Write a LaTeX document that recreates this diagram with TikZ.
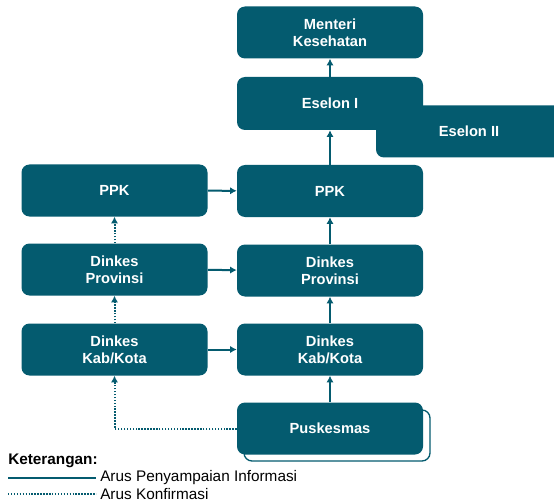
\documentclass[tikz,border=0pt]{standalone}
\usepackage{fontspec}
\setmainfont{Liberation Sans}
\usetikzlibrary{arrows.meta}
\definecolor{tealbox}{RGB}{4,91,111}
\tikzset{
  box/.style={rectangle, rounded corners=6pt, fill=tealbox, text=white,
    font=\bfseries\fontsize{11}{12.8}\selectfont, align=center,
    minimum width=139.5pt, minimum height=39pt, inner sep=0pt},
  info/.style={draw=tealbox, line width=1.5pt, -{Latex[length=5pt,width=5.5pt]}},
  konf/.style={draw=tealbox, line width=1.5pt, dash pattern=on 1.1pt off 1.1pt,
    -{Latex[length=5pt,width=5.5pt]}},
  legtext/.style={anchor=west, inner sep=0pt, font=\fontsize{11.5}{13}\selectfont}
}
\begin{document}
\begin{tikzpicture}[x=0.75pt, y=-0.75pt]
\useasboundingbox (0,0) rectangle (554,503);
\clip (0,0) rectangle (554,503);
% pusat
\node[box] (menteri) at (330,32.5) {Menteri\\Kesehatan};
\node[box] (eselonII) at (469,131.5) {Eselon II};
\node[box, minimum height=39.75pt] (eselonI) at (330,103.5) {Eselon I};
% jalur kanan
\node[box] (ppkR) at (330,191) {PPK};
\node[box] (provR) at (330,270.5) {Dinkes\\Provinsi};
\node[box] (kabR) at (330,349.5) {Dinkes\\Kab/Kota};
\draw[draw=tealbox, fill=white, line width=1pt, rounded corners=6pt] (244,410) rectangle (430,461);
\node[box] (puskesmas) at (330,428.5) {Puskesmas};
% jalur kiri
\node[box] (ppkL) at (114.5,190.5) {PPK};
\node[box] (provL) at (114.5,269.5) {Dinkes\\Provinsi};
\node[box] (kabL) at (114.5,349.5) {Dinkes\\Kab/Kota};
% arus informasi
\draw[info] (puskesmas) -- (kabR);
\draw[info] (kabR) -- (provR);
\draw[info] (provR) -- (ppkR);
\draw[info] (ppkR) -- (eselonI);
\draw[info] (eselonI) -- (menteri);
\draw[info] (ppkL) -- (ppkR);
\draw[info] (provL) -- (provR);
\draw[info] (kabL) -- (kabR);
% arus konfirmasi
\draw[konf] (puskesmas.west) -| (kabL.south);
\draw[konf] (kabL) -- (provL);
\draw[konf] (provL) -- (ppkL);
% keterangan
\node[legtext, font=\bfseries\fontsize{11.5}{13}\selectfont] (ket) at (8,461) {Keterangan:};
\coordinate (infoA) at (8,478);
\coordinate (infoB) at (96,478);
\coordinate (konfA) at (8,494);
\coordinate (konfB) at (96,494);
\draw[draw=tealbox, line width=1.5pt] (infoA) -- (infoB);
\draw[draw=tealbox, line width=1.5pt, dash pattern=on 1.1pt off 1.1pt] (konfA) -- (konfB);
\node[legtext] (infoTxt) at (100,478) {Arus Penyampaian Informasi};
\node[legtext] (konfTxt) at (100,494) {Arus Konfirmasi};
\end{tikzpicture}
\end{document}
